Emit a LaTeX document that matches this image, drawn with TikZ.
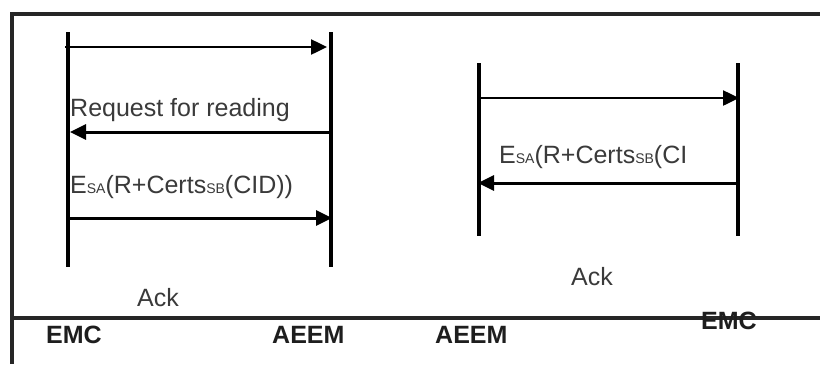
\documentclass[tikz,border=0pt]{standalone}
\usepackage{fontspec}
\setmainfont{Liberation Sans}
\usetikzlibrary{arrows.meta}
\definecolor{txt}{HTML}{3A3A3A}
\definecolor{lbl}{HTML}{1E1E1E}
\newcommand{\smallsub}[1]{{\fontsize{14bp}{14bp}\selectfont #1}}
\begin{document}
\begin{tikzpicture}[x=1bp,y=-1bp,
  frame/.style={line width=3.5bp,draw=black!85},
  lifeline/.style={line width=4bp,draw=black},
  msg/.style={line width=3bp,draw=black,-{Triangle[length=16bp,width=15bp]}},
  msgtext/.style={inner sep=0pt,anchor=base west,text=txt,font=\fontsize{25bp}{30bp}\selectfont},
  party/.style={inner sep=0pt,anchor=base west,text=lbl,font=\fontsize{25bp}{30bp}\selectfont\bfseries}]
\useasboundingbox (0,0) rectangle (820,364);
\fill[white] (0,0) rectangle (820,364);
% frame
\coordinate (ftl) at (12,14);
\coordinate (ftr) at (820,14);
\coordinate (fbl) at (12,364);
\coordinate (fml) at (12,318);
\coordinate (fmr) at (820,318);
\draw[frame] (ftr) -- (ftl) -- (fbl);
\draw[frame] (fml) -- (fmr);
% left lifelines
\coordinate (L1t) at (68,32);  \coordinate (L1b) at (68,267);
\coordinate (L2t) at (331,32); \coordinate (L2b) at (331,267);
\draw[lifeline] (L1t) -- (L1b);
\draw[lifeline] (L2t) -- (L2b);
% right lifelines
\coordinate (R1t) at (479,63);  \coordinate (R1b) at (479,236);
\coordinate (R2t) at (738,63);  \coordinate (R2b) at (738,236);
\draw[lifeline] (R1t) -- (R1b);
\draw[lifeline] (R2t) -- (R2b);
% left messages
\coordinate (m1s) at (65,47);  \coordinate (m1e) at (327,47);
\coordinate (m2s) at (331,132); \coordinate (m2e) at (70,132);
\coordinate (m3s) at (68,218); \coordinate (m3e) at (332,218);
\draw[msg,line width=2.5bp] (m1s) -- (m1e);
\draw[msg] (m2s) -- (m2e);
\draw[msg] (m3s) -- (m3e);
% right messages
\coordinate (n1s) at (479,98);  \coordinate (n1e) at (739,98);
\coordinate (n2s) at (738,183); \coordinate (n2e) at (478,183);
\draw[msg,line width=2.5bp] (n1s) -- (n1e);
\draw[msg] (n2s) -- (n2e);
% texts
\node[msgtext] (t1) at (70,116) {Request for reading};
\node[msgtext] (t2) at (70,193) {E\smallsub{SA}(R+Certs\smallsub{SB}(CID))};
\node[msgtext] (t3) at (137,306) {Ack};
\node[msgtext] (t4) at (499,163) {E\smallsub{SA}(R+Certs\smallsub{SB}(CI};
\node[msgtext] (t5) at (571,285) {Ack};
% party labels
\node[party] (p1) at (46,343) {EMC};
\node[party] (p2) at (272,343) {AEEM};
\node[party] (p3) at (435,343) {AEEM};
\node[party] (p4) at (701,329) {EMC};
\end{tikzpicture}
\end{document}
